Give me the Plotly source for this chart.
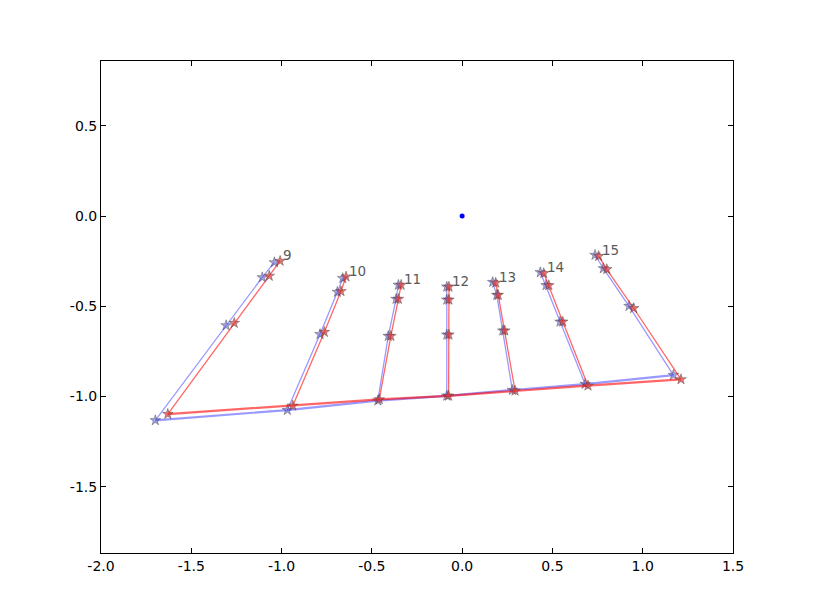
import plotly.graph_objects as go

# Finger labels
finger_ids = [9, 10, 11, 12, 13, 14, 15]

# Each finger: base, joint 1, joint 2, tip  (x / y)
red_x = [
    [-1.630, -1.262, -1.068, -1.008],
    [-0.938, -0.763, -0.671, -0.643],
    [-0.459, -0.395, -0.353, -0.338],
    [-0.075, -0.073, -0.073, -0.073],
    [0.293, 0.236, 0.200, 0.186],
    [0.697, 0.557, 0.480, 0.452],
    [1.212, 0.950, 0.801, 0.756],
]
red_y = [
    [-1.097, -0.593, -0.332, -0.249],
    [-1.051, -0.643, -0.417, -0.336],
    [-1.016, -0.665, -0.460, -0.382],
    [-0.996, -0.658, -0.464, -0.392],
    [-0.968, -0.635, -0.438, -0.370],
    [-0.940, -0.586, -0.384, -0.317],
    [-0.905, -0.511, -0.295, -0.222],
]
blue_x = [
    [-1.699, -1.307, -1.107, -1.040],
    [-0.968, -0.787, -0.691, -0.661],
    [-0.467, -0.409, -0.366, -0.353],
    [-0.085, -0.085, -0.085, -0.085],
    [0.278, 0.225, 0.192, 0.169],
    [0.681, 0.542, 0.465, 0.433],
    [1.170, 0.924, 0.782, 0.736],
]
blue_y = [
    [-1.132, -0.606, -0.340, -0.257],
    [-1.075, -0.655, -0.421, -0.345],
    [-1.023, -0.665, -0.460, -0.382],
    [-0.996, -0.658, -0.464, -0.392],
    [-0.964, -0.635, -0.438, -0.366],
    [-0.931, -0.586, -0.384, -0.312],
    [-0.881, -0.499, -0.290, -0.216],
]

center_x = [0.0]
center_y = [0.0]

x_ticks = [-2.0, -1.5, -1.0, -0.5, 0.0, 0.5, 1.0, 1.5]
y_ticks = [-1.5, -1.0, -0.5, 0.0, 0.5]
x_tick_text = [f"{v:.1f}" for v in x_ticks]
y_tick_text = [f"{v:.1f}" for v in y_ticks]

fig = go.Figure()

sets = [
    (blue_x, blue_y, "rgba(0,0,255,0.4)", "rgba(90,90,210,0.55)"),
    (red_x, red_y, "rgba(255,0,0,0.6)", "rgba(220,60,60,0.7)"),
]
for xs, ys, lcol, mcol in sets:
    # palm line through the finger bases
    fig.add_trace(go.Scatter(
        x=[f[0] for f in xs], y=[f[0] for f in ys], mode="lines",
        line=dict(color=lcol, width=2.2), showlegend=False, hoverinfo="skip"))
    for fx, fy in zip(xs, ys):
        fig.add_trace(go.Scatter(
            x=fx, y=fy, mode="lines+markers",
            line=dict(color=lcol, width=1.3),
            marker=dict(symbol="star", size=8, color=mcol,
                        line=dict(color="rgba(60,60,60,0.5)", width=0.8)),
            showlegend=False, hoverinfo="skip"))

fig.add_trace(go.Scatter(x=center_x, y=center_y, mode="markers",
                         marker=dict(color="blue", size=5),
                         showlegend=False, hoverinfo="skip"))

for fid, fx, fy in zip(finger_ids, red_x, red_y):
    fig.add_annotation(x=fx[-1], y=fy[-1], text=str(fid), showarrow=False,
                       xanchor="left", yanchor="bottom", xshift=1, yshift=-4,
                       font=dict(family="DejaVu Sans", size=13.5, color="#5a5a5a"))

axis_common = dict(showline=True, mirror="ticks", linecolor="black", linewidth=1,
                   ticks="inside", ticklen=5, tickcolor="black", showgrid=False,
                   zeroline=False,
                   tickfont=dict(family="DejaVu Sans", size=14, color="black"))

# page body has an 8px default margin, so margins are offset accordingly
fig.update_layout(
    width=815, height=615,
    margin=dict(l=93, r=90, t=53, b=70),
    paper_bgcolor="white", plot_bgcolor="white",
    xaxis=dict(range=[-2.0, 1.5], tickvals=x_ticks, ticktext=x_tick_text, **axis_common),
    yaxis=dict(range=[-1.867, 0.859], tickvals=y_ticks, ticktext=y_tick_text, **axis_common),
    font=dict(family="DejaVu Sans"),
)

fig.write_html("out.html")
